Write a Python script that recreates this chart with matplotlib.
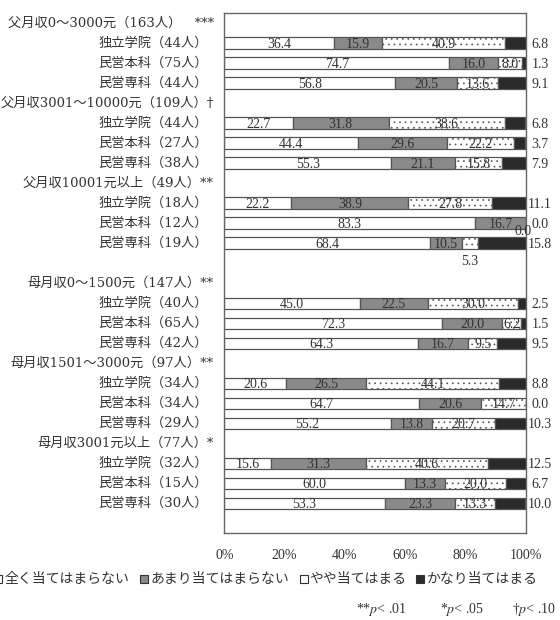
import matplotlib.pyplot as plt
from matplotlib.patches import Rectangle

plt.rcParams['font.family'] = ['Liberation Serif', 'Noto Sans CJK JP']
plt.rcParams['mathtext.fontset'] = 'stix'
plt.rcParams['hatch.linewidth'] = 0.5
plt.rcParams['hatch.color'] = '#777777'

# data (percent)
groups = ['父月収0～3000元（163人）　***', '父月収3001～10000元（109人）†', '父月収10001元以上（49人）**',
          '母月収0～1500元（147人）**', '母月収1501～3000元（97人）**', '母月収3001元以上（77人）*']
schools = ['独立学院', '民営本科', '民営専科']
counts = [44, 75, 44, 44, 27, 38, 18, 12, 19, 40, 65, 42, 34, 34, 29, 32, 15, 30]
not_at_all = [36.4, 74.7, 56.8, 22.7, 44.4, 55.3, 22.2, 83.3, 68.4,
              45.0, 72.3, 64.3, 20.6, 64.7, 55.2, 15.6, 60.0, 53.3]
not_much = [15.9, 16.0, 20.5, 31.8, 29.6, 21.1, 38.9, 16.7, 10.5,
            22.5, 20.0, 16.7, 26.5, 20.6, 13.8, 31.3, 13.3, 23.3]
somewhat = [40.9, 8.0, 13.6, 38.6, 22.2, 15.8, 27.8, 0.0, 5.3,
            30.0, 6.2, 9.5, 44.1, 14.7, 20.7, 40.6, 20.0, 13.3]
quite = [6.8, 1.3, 9.1, 6.8, 3.7, 7.9, 11.1, 0.0, 15.8,
         2.5, 1.5, 9.5, 8.8, 0.0, 10.3, 12.5, 6.7, 10.0]
categories = ['全く当てはまらない', 'あまり当てはまらない', 'やや当てはまる', 'かなり当てはまる']
xticks = [0, 20, 40, 60, 80, 100]

seg_colors = ['white', '#8a8a8a', 'white', '#2a2a2a']
seg_hatch = [None, None, '...', None]
txt = '#333333'
label_font = ['DejaVu Serif', 'Noto Sans CJK JP']

# row layout: header row then three school rows, blank row between father/mother blocks
header_rows, bar_rows = [], []
pos = 0
for g in range(len(groups)):
    header_rows.append(pos)
    bar_rows.extend([pos + 1, pos + 2, pos + 3])
    pos += 4
    if g == 2:
        pos += 1

fig = plt.figure(figsize=(5.6, 6.2), dpi=100)
ax = fig.add_axes([224.3 / 560, 1 - 533.3 / 620, 301.4 / 560, 520.6 / 620])

series = [not_at_all, not_much, somewhat, quite]
lefts = [0.0] * len(bar_rows)
for k, vals in enumerate(series):
    ax.barh(bar_rows, vals, left=lefts, height=0.57, color=seg_colors[k],
            edgecolor='#555555', linewidth=0.9, hatch=seg_hatch[k])
    for i, (r, v) in enumerate(zip(bar_rows, vals)):
        if k == 3:
            ax.text(104.8, r + 0.05, f'{v:.1f}', ha='center', va='center',
                    fontsize=10, color=txt, clip_on=False)
        elif k == 2 and v == 0:
            ax.text(99, r + 0.42, f'{v:.1f}', ha='center', va='center', fontsize=10, color=txt)
        elif k == 2 and v < 6 and quite[i] > 10:
            ax.text(lefts[i] + v / 2, r + 0.92, f'{v:.1f}', ha='center', va='center',
                    fontsize=10, color=txt)
        else:
            ax.text(lefts[i] + v / 2, r + 0.05, f'{v:.1f}', ha='center', va='center',
                    fontsize=10, color=txt)
    lefts = [a + b for a, b in zip(lefts, vals)]

ax.set_xlim(0, 100)
ax.set_ylim(25.5, -0.52)
ax.set_xticks(xticks)
ax.set_xticklabels([f'{t}%' for t in xticks], fontsize=10, color=txt)
ax.tick_params(axis='x', length=0, pad=11)
ax.set_yticks([])
for s in ax.spines.values():
    s.set_color('#666666')
    s.set_linewidth(1.0)

# left labels
tr = ax.get_yaxis_transform()
for r, g in zip(header_rows, groups):
    ax.text(-0.035, r, g, transform=tr, ha='right', va='center', fontsize=9.5,
            color=txt, family=label_font)
for i, r in enumerate(bar_rows):
    ax.text(-0.055, r, f'{schools[i % 3]}（{counts[i]}人）', transform=tr,
            ha='right', va='center', fontsize=9.5, color=txt, family=label_font)

# legend
leg_sq = [-6, 140, 300, 416]
leg_tx = [5, 150, 309, 427]
for k in range(4):
    fig.patches.append(Rectangle((leg_sq[k] / 560, 1 - 583 / 620), 8 / 560, 8 / 620,
                                 transform=fig.transFigure, facecolor=seg_colors[k],
                                 edgecolor='#333333', linewidth=0.8))
    fig.text(leg_tx[k] / 560, 1 - 579 / 620, categories[k], ha='left', va='center',
             fontsize=10, color=txt)

# significance note
fig.text(356 / 560, 1 - 609 / 620, r'**$p$< .01', ha='left', va='center', fontsize=10, color=txt)
fig.text(440 / 560, 1 - 609 / 620, r'*$p$< .05', ha='left', va='center', fontsize=10, color=txt)
fig.text(512 / 560, 1 - 609 / 620, r'†$p$< .10', ha='left', va='center', fontsize=10, color=txt)

fig.savefig('out.png', dpi=100, facecolor='white')
